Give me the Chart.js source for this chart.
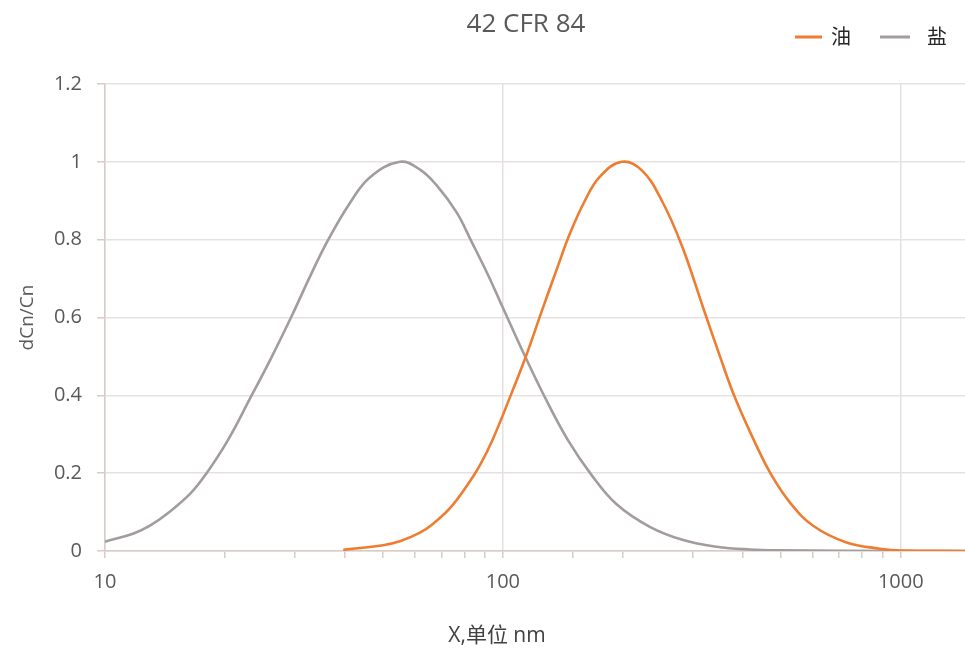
<!DOCTYPE html>
<html>
<head>
<meta charset="utf-8">
<script src="https://cdn.jsdelivr.net/npm/chart.js@4.4.1/dist/chart.umd.min.js"></script>
<style>
  html, body { margin: 0; padding: 0; background: #ffffff; }
  #wrap { width: 965px; height: 649px; position: relative; }
</style>
</head>
<body>
<div id="wrap"><canvas id="c" width="965" height="649"></canvas></div>
<script>
// ---- data ----
const chartTitle = "42 CFR 84";
const seriesNames = ["油", "盐"];
const xAxisTitle = "X,单位 nm";
const yAxisTitle = "dCn/Cn";
const xMajorTicks = [10, 100, 1000];

const oilX = [39.7, 50.0, 55.1, 61.9, 66.8, 73.6, 81.1, 87.5, 94.4, 105.1, 114.7, 125.1, 136.7, 147.3, 160.7, 175.3, 199, 223.5, 250.9, 281.6, 319.9, 351.2, 382.7, 434, 473.2, 526.2, 602.1, 730.6, 885.3, 1000, 1450];
const oilY = [0.003, 0.015, 0.025, 0.047, 0.07, 0.11, 0.167, 0.22, 0.288, 0.405, 0.505, 0.615, 0.725, 0.815, 0.9, 0.962, 1.0, 0.978, 0.9, 0.785, 0.62, 0.5, 0.395, 0.27, 0.195, 0.125, 0.065, 0.022, 0.006, 0.001, 0.0];

const saltX = [10, 11.8, 12.97, 14.3, 16.4, 18.0, 20.37, 23.1, 26.13, 29.5, 32.74, 36.4, 41.3, 46.3, 55.1, 61.9, 68.1, 76.5, 83.4, 91.7, 100, 113.1, 127.5, 145.7, 167.1, 193.1, 234, 283.8, 344.4, 417.5, 496.6, 1000, 1450];
const saltY = [0.024, 0.045, 0.065, 0.095, 0.148, 0.2, 0.285, 0.39, 0.495, 0.605, 0.705, 0.8, 0.895, 0.96, 1.0, 0.98, 0.94, 0.87, 0.795, 0.71, 0.625, 0.505, 0.395, 0.285, 0.195, 0.12, 0.062, 0.028, 0.011, 0.004, 0.002, 0.0, 0.0];

const colors = ["#ED7D31", "#A39C9C"];

const toPts = (xs, ys) => xs.map((x, i) => ({ x: x, y: ys[i] }));

const FONT = "'Open Sans', 'Noto Sans CJK SC', sans-serif";

const overlay = {
  id: 'overlay',
  afterDraw(chart) {
    const ctx = chart.ctx;
    ctx.save();
    // title
    ctx.fillStyle = '#595959';
    ctx.font = "26px " + FONT;
    ctx.textAlign = 'center';
    ctx.textBaseline = 'middle';
    ctx.fillText(chartTitle, 526, 25);
    // legend
    const items = [
      { x0: 795, x1: 822, tx: 831, color: colors[0], text: seriesNames[0] },
      { x0: 880, x1: 910, tx: 927, color: colors[1], text: seriesNames[1] }
    ];
    ctx.font = "20px " + FONT;
    ctx.textAlign = 'left';
    items.forEach(it => {
      ctx.strokeStyle = it.color;
      ctx.lineWidth = 3;
      ctx.beginPath();
      ctx.moveTo(it.x0, 37);
      ctx.lineTo(it.x1, 37);
      ctx.stroke();
      ctx.fillStyle = '#262626';
      ctx.fillText(it.text, it.tx, 38);
    });
    // x axis title
    ctx.fillStyle = '#404040';
    ctx.font = "21px " + FONT;
    ctx.textAlign = 'center';
    ctx.fillText(xAxisTitle, 497, 636);
    ctx.restore();
  }
};

new Chart(document.getElementById('c'), {
  type: 'scatter',
  data: {
    datasets: [
      {
        label: seriesNames[0],
        data: toPts(oilX, oilY),
        showLine: true,
        borderColor: colors[0],
        backgroundColor: colors[0],
        borderWidth: 2.6,
        pointRadius: 0,
        tension: 0.4
      },
      {
        label: seriesNames[1],
        data: toPts(saltX, saltY),
        showLine: true,
        borderColor: colors[1],
        backgroundColor: colors[1],
        borderWidth: 2.6,
        pointRadius: 0,
        tension: 0.4
      }
    ]
  },
  options: {
    responsive: false,
    animation: false,
    events: [],
    layout: { padding: { top: 84, right: 0, bottom: 0, left: 0 } },
    plugins: {
      legend: { display: false },
      title: { display: false },
      tooltip: { enabled: false }
    },
    scales: {
      x: {
        type: 'logarithmic',
        min: 10,
        max: 1450,
        afterFit: (s) => { s.height = 98; },
        afterBuildTicks: (s) => { s.ticks = s.ticks.filter(t => t.value <= 1000); },
        border: { display: true, color: '#d8cbc8', width: 1.5 },
        grid: {
          color: (c) => (c.tick && xMajorTicks.includes(Math.round(c.tick.value))) ? '#e4e0e0' : 'rgba(0,0,0,0)',
          tickColor: '#d8cbc8',
          lineWidth: 1.5,
          drawTicks: true,
          tickLength: 7
        },
        ticks: {
          autoSkip: false,
          maxRotation: 0,
          padding: 12,
          color: '#595959',
          font: { family: FONT, size: 20 },
          callback: (v) => xMajorTicks.includes(Math.round(v)) && Math.abs(v - Math.round(v)) < 1e-6 ? String(Math.round(v)) : ''
        }
      },
      y: {
        min: 0,
        max: 1.2,
        afterFit: (s) => { s.width = 105; },
        border: { display: true, color: '#d8cbc8', width: 1.5 },
        grid: {
          color: '#e6e2e2',
          tickColor: '#d8cbc8',
          lineWidth: 1.5,
          tickLength: 8
        },
        ticks: {
          stepSize: 0.2,
          padding: 15,
          color: '#595959',
          font: { family: FONT, size: 20 },
          callback: (v) => String(+(+v).toFixed(1))
        },
        title: {
          display: true,
          text: yAxisTitle,
          color: '#595959',
          font: { family: FONT, size: 19 },
          padding: { top: 16, bottom: 0 }
        }
      }
    }
  },
  plugins: [overlay]
});
</script>
</body>
</html>
